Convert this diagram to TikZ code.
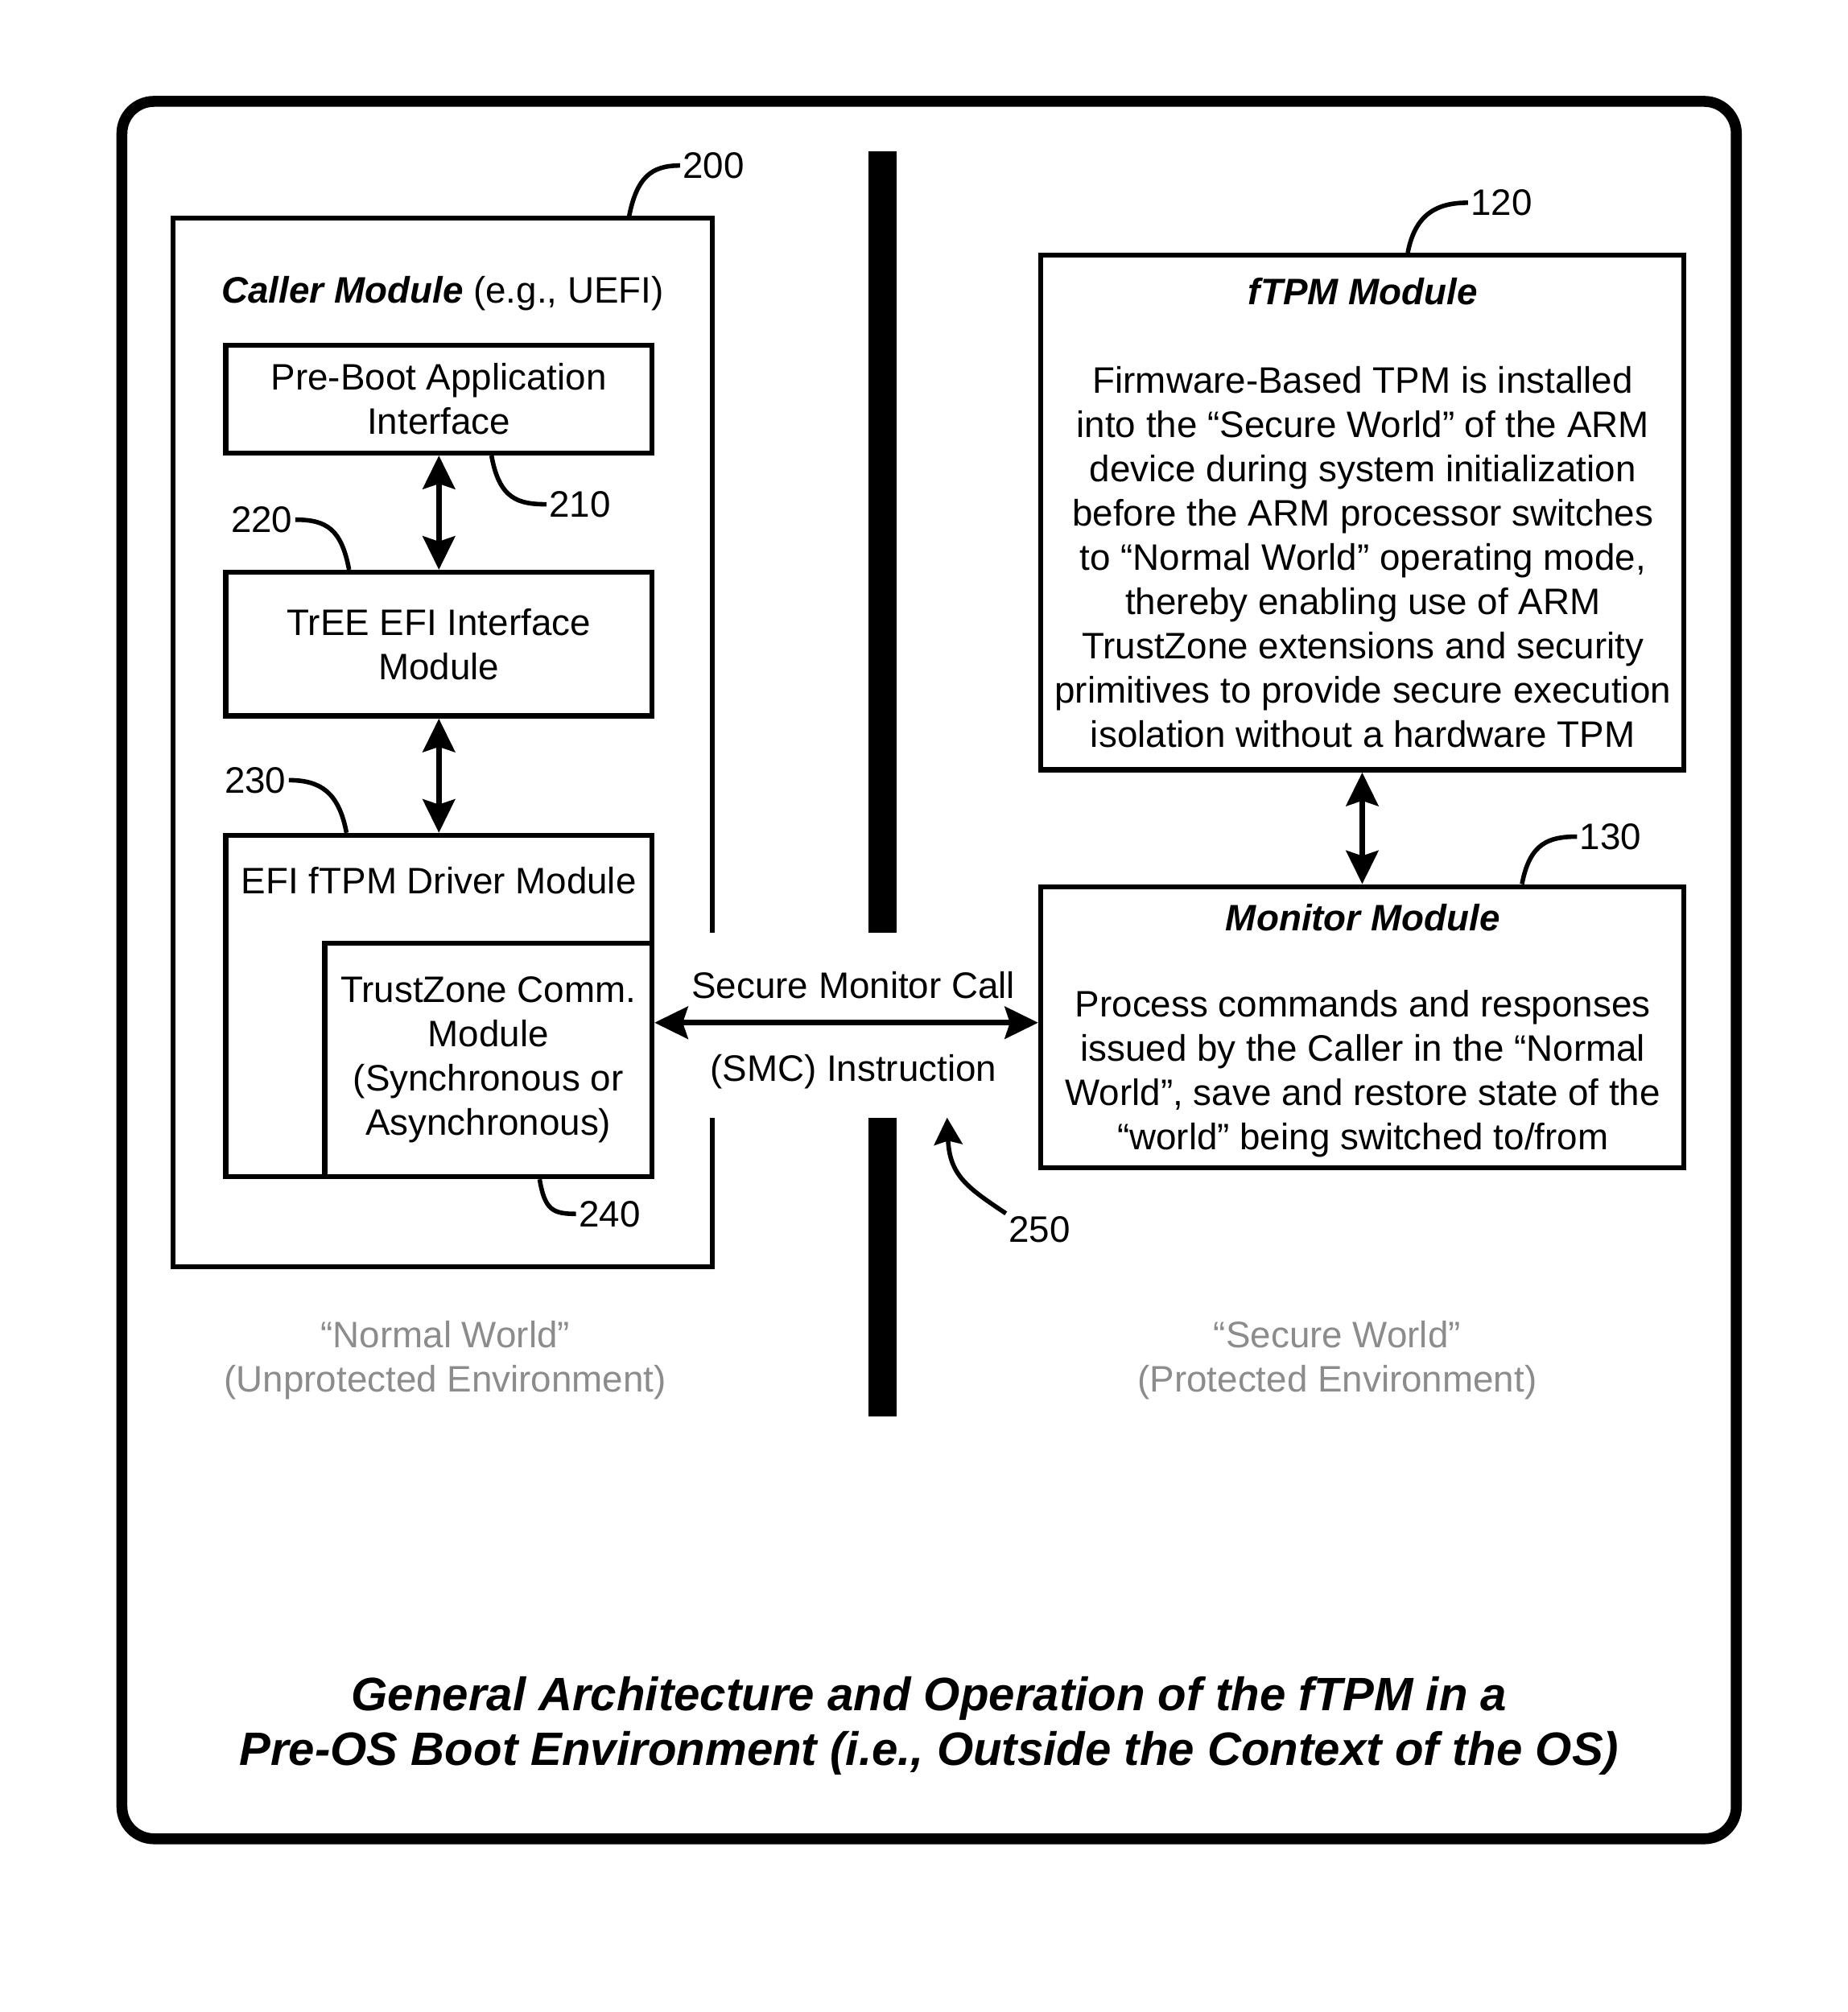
\documentclass[tikz,border=0pt]{standalone}
\usepackage{fontspec}
\setmainfont{Liberation Sans}
\usepackage{tikz}
\usetikzlibrary{arrows.meta}
\tikzset{module/.style = {draw, line width=4, rectangle, inner sep=0, align=center, font=\fontsize{28.7}{34.5}\selectfont}}
\tikzset{txt/.style = {inner sep=2, align=center, font=\fontsize{28.7}{34.5}\selectfont}}
\tikzset{head/.style = {txt, font=\fontsize{28.7}{34.5}\selectfont\bfseries\itshape}}
\tikzset{dblarrow/.style = {line width=4.5, {Stealth[length=26, width=25, inset=4]}-{Stealth[length=26, width=25, inset=4]}}}
\tikzset{leader/.style = {line width=3.5}}

\begin{document}
\begin{tikzpicture}[x=1pt, y=-1pt]
    \useasboundingbox (0, 0) rectangle (1440, 1568);
    \draw [line width=8.5, rounded corners=25] (95, 79) rectangle (1353, 1433);

    \coordinate (gaptop) at (688, 727);
    \coordinate (gapbot) at (688, 871);
    \draw [line width=22] (688, 118) -- (gaptop);
    \draw [line width=22] (gapbot) -- (688, 1104);

    \begin{scope}
      \node [minimum width=420, minimum height=817, inner sep=0] (caller) at (345, 578.5) {};
      \draw [line width=4] (caller.north east |- gaptop) -- (caller.north east) -- (caller.north west) -- (caller.south west) -- (caller.south east) -- (caller.south east |- gapbot);
      \node [txt] (callerlabel) at (345, 229) {\textbf{\textit{Caller Module}} (e.g., UEFI)};

      \node [module, minimum width=332, minimum height=84] (preboot) at (342, 311) {Pre-Boot Application\\Interface};
      \node [module, minimum width=332, minimum height=112] (tree) at (342, 502) {TrEE EFI Interface\\Module};
      \node [module, minimum width=332, minimum height=266] (driver) at (342, 784) {};
      \node [txt] (driverlabel) at ([yshift=-37]driver.north) {EFI fTPM Driver Module};
      \node [module, minimum width=255, minimum height=182] (trustzone) at (380.5, 826) {TrustZone Comm.\\Module\\(Synchronous or\\Asynchronous)};

      \draw [dblarrow] (preboot) -- (tree);
      \draw [dblarrow] (tree) -- (driver);

      \node [txt] (n200) at (556, 129) {200};
      \node [txt] (n210) at (452, 393) {210};
      \node [txt] (n220) at (204, 405) {220};
      \node [txt] (n230) at (199, 608) {230};
      \node [txt] (n240) at (475, 946) {240};
      \draw [leader] ([xshift=145]caller.north) .. controls +(6, -32) and +(-22, 0) .. (n200.west);
      \draw [leader] ([xshift=41]preboot.south) .. controls +(6, 34) and +(-22, 0) .. (n210.west);
      \draw [leader] (n220.east) .. controls +(24, 0) and +(-6, -32) .. ([xshift=-70]tree.north);
      \draw [leader] (n230.east) .. controls +(24, 0) and +(-6, -32) .. ([xshift=-72]driver.north);
      \draw [leader] ([xshift=40]trustzone.south) .. controls +(4, 24) and +(-18, 0) .. (n240.west);

      \node [txt, text=black!45] (normal) at (347, 1060) {“Normal World”\\(Unprotected Environment)};
    \end{scope}

    \begin{scope}
      \node [module, minimum width=501, minimum height=401] (ftpm) at (1061.5, 399.5) {};
      \node [head] (ftpmlabel) at (1062, 227) {fTPM Module};
      \node [txt] (ftpmtext) at (1062, 434) {Firmware-Based TPM is installed\\into the “Secure World” of the ARM\\device during system initialization\\before the ARM processor switches\\to “Normal World” operating mode,\\thereby enabling use of ARM\\TrustZone extensions and security\\primitives to provide secure execution\\isolation without a hardware TPM};

      \node [module, minimum width=501, minimum height=219] (monitor) at (1061.5, 800.5) {};
      \node [head] (monitorlabel) at (1062, 715) {Monitor Module};
      \node [txt] (monitortext) at (1062, 837) {Process commands and responses\\issued by the Caller in the “Normal\\World”, save and restore state of the\\“world” being switched to/from};

      \draw [dblarrow] (ftpm) -- (monitor);

      \node [txt] (n120) at (1170, 158) {120};
      \node [txt] (n130) at (1255, 652) {130};
      \draw [leader] ([xshift=35.5]ftpm.north) .. controls +(6, -32) and +(-22, 0) .. (n120.west);
      \draw [leader] ([xshift=124.5]monitor.north) .. controls +(6, -32) and +(-22, 0) .. (n130.west);

      \node [txt, text=black!45] (secure) at (1042, 1060) {“Secure World”\\(Protected Environment)};
    \end{scope}

    \coordinate (smc) at (665, 797);
    \draw [dblarrow] (trustzone.east |- smc) -- (monitor.west |- smc);
    \node [txt] (smctop) at (665, 768) {Secure Monitor Call};
    \node [txt] (smcbot) at (665, 835) {(SMC) Instruction};

    \coordinate (c250) at (738, 871);
    \node [txt] (n250) at (810, 958) {250};
    \draw [leader, -{Stealth[length=21, width=22, inset=3]}] (n250.north west) .. controls +(-30, -20) and +(2, 45) .. (c250);

    \node [txt, font=\fontsize{36.5}{43}\selectfont\bfseries\itshape] (title) at (724, 1345) {General Architecture and Operation of the fTPM in a\\Pre-OS Boot Environment (i.e., Outside the Context of the OS)};
  \end{tikzpicture}
\end{document}
